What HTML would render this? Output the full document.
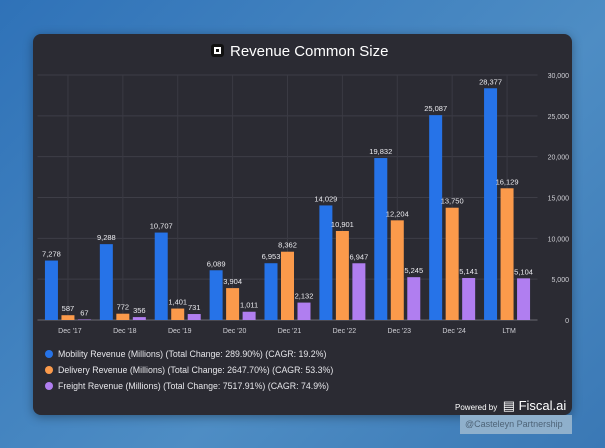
<!DOCTYPE html>
<html><head><meta charset="utf-8"><style>
body{margin:0;width:605px;height:448px;overflow:hidden;background:linear-gradient(135deg,#2f72b8,#4e8dc4 60%,#3a78b5);font-family:"Liberation Sans",sans-serif}
#card{position:absolute;left:33px;top:34px;width:539px;height:381px;background:#2b2b33;border-radius:8px;box-shadow:0 2px 10px rgba(0,0,0,.35)}
.lg{position:absolute;left:45px;font-size:8.8px;color:#e6e6ea;white-space:nowrap}
.dot{display:inline-block;width:8px;height:8px;border-radius:50%;margin-right:5px;vertical-align:-1px}
</style></head><body>
<div id="card"></div>
<div style="position:absolute;left:211px;top:43px;color:#fff;font-size:15px;white-space:nowrap"><span style="display:inline-block;width:13px;height:13px;background:#111;border-radius:3px;vertical-align:-1px;margin-right:6px;position:relative"><span style="position:absolute;left:3px;top:3px;width:7px;height:7px;background:#fff"></span><span style="position:absolute;left:5px;top:5px;width:3px;height:3px;background:#111"></span></span>Revenue Common Size</div>
<svg id="chart" width="605" height="448" style="position:absolute;left:0;top:0"></svg>
<div class="lg" style="top:349px"><span class="dot" style="background:#2673e8"></span>Mobility Revenue (Millions) (Total Change: 289.90%) (CAGR: 19.2%)</div>
<div class="lg" style="top:365px"><span class="dot" style="background:#fb9a4b"></span>Delivery Revenue (Millions) (Total Change: 2647.70%) (CAGR: 53.3%)</div>
<div class="lg" style="top:381px"><span class="dot" style="background:#b07ef0"></span>Freight Revenue (Millions) (Total Change: 7517.91%) (CAGR: 74.9%)</div>
<div style="position:absolute;left:455px;top:397px;color:#fff;white-space:nowrap"><span style="font-size:8px">Powered by</span> <span style="font-size:13px;margin-left:1px">&#9636; Fiscal.ai</span></div>
<div style="position:absolute;left:460px;top:415px;width:112px;height:19px;background:#8fb0cc;color:#4e6478;font-size:9px;line-height:19px;padding-left:5px;box-sizing:border-box">@Casteleyn Partnership</div>
<script>
const categories=["Dec '17","Dec '18","Dec '19","Dec '20","Dec '21","Dec '22","Dec '23","Dec '24","LTM"];
const mobility=[7278,9288,10707,6089,6953,14029,19832,25087,28377];
const delivery=[587,772,1401,3904,8362,10901,12204,13750,16129];
const freight=[67,356,731,1011,2132,6947,5245,5141,5104];
const yTicks=[0,5000,10000,15000,20000,25000,30000];
const svg=document.getElementById('chart');const NS='http://www.w3.org/2000/svg';
const L=40.5,R=534.5,Y0=320,Y1=75,MAX=30000;
const band=(R-L)/categories.length;
const x=i=>L+band*(i+0.5);
const y=v=>Y0-(v/MAX)*(Y0-Y1);
function mk(t,a){const e=document.createElementNS(NS,t);for(const k in a)e.setAttribute(k,a[k]);svg.appendChild(e);return e;}
yTicks.forEach(t=>{const l=mk('line',{x1:L-3,x2:R+3,y1:y(t),y2:y(t),stroke:t===0?'#6a6a72':'#3e3e47','stroke-width':1});


const tx=mk('text',{x:569,y:y(t)+3,'text-anchor':'end','font-size':7,fill:'#d0d0d6'});tx.textContent=t.toLocaleString('en-US');

});
categories.forEach((c,i)=>{const g=mk('line',{x1:x(i),x2:x(i),y1:Y1,y2:Y0,stroke:'#3a3a43','stroke-width':1});


const t=mk('text',{x:x(i)+2,y:333,'text-anchor':'middle','font-size':7,fill:'#d0d0d6'});t.textContent=c;

});
const series=[[mobility,'#2673e8','bar-mobility'],[delivery,'#fb9a4b','bar-delivery'],[freight,'#b07ef0','bar-freight']];
const bw=13,gap=3.5;
series.forEach(([arr,col,nm],s)=>{arr.forEach((v,i)=>{const cx=x(i)+(s-1)*(bw+gap);
const r=mk('rect',{x:cx-bw/2,y:y(v),width:bw,height:Y0-y(v),fill:col});


const t=mk('text',{x:cx,y:y(v)-4,'text-anchor':'middle','font-size':7.5,fill:'#ececf0'});t.textContent=v.toLocaleString('en-US');

});});
</script>
</body></html>
